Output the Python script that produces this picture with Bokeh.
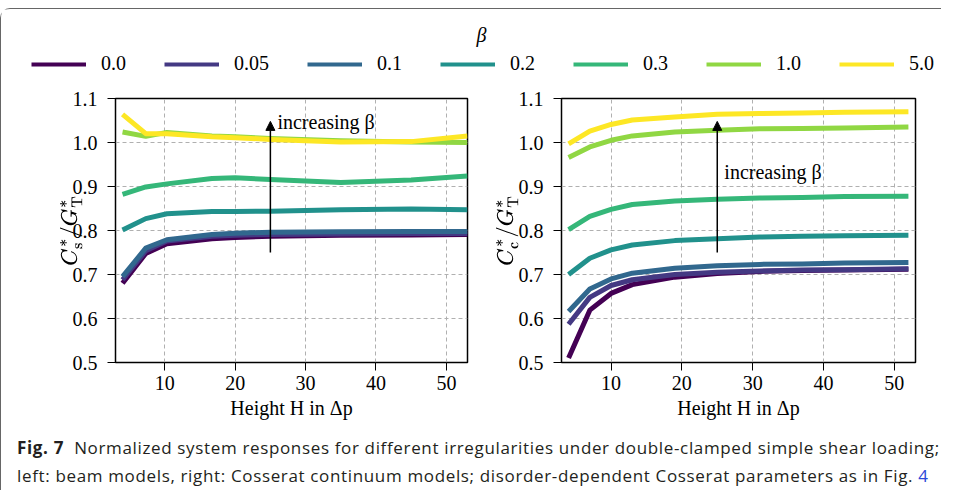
from bokeh.plotting import figure
from bokeh.layouts import column, row
from bokeh.models import (Range1d, FixedTicker, PrintfTickFormatter, Arrow, NormalHead,
                          Label, Legend, LegendItem, Div, Spacer)
from bokeh.embed import file_html
from bokeh.resources import INLINE

# ---------------- data ----------------
beta_labels = ["0.0", "0.05", "0.1", "0.2", "0.3", "1.0", "5.0"]
beta_colors = ["#440154", "#443983", "#31688e", "#21918c", "#35b779", "#90d743", "#fde725"]

# left panel: beam models
H_beam = [4, 7.3, 10.3, 16.7, 20, 25, 35, 45, 53]
beam_b000 = [0.680, 0.748, 0.770, 0.781, 0.784, 0.787, 0.789, 0.790, 0.791]
beam_b005 = [0.688, 0.754, 0.776, 0.787, 0.789, 0.791, 0.792, 0.793, 0.793]
beam_b010 = [0.695, 0.760, 0.779, 0.791, 0.794, 0.796, 0.797, 0.798, 0.798]
beam_b020 = [0.801, 0.827, 0.838, 0.843, 0.843, 0.844, 0.847, 0.849, 0.847]
beam_b030 = [0.882, 0.899, 0.906, 0.918, 0.920, 0.916, 0.909, 0.915, 0.924]
beam_b100 = [1.024, 1.014, 1.023, 1.015, 1.013, 1.009, 1.004, 1.001, 1.000]
beam_b500 = [1.064, 1.020, 1.020, 1.013, 1.011, 1.007, 1.001, 1.002, 1.015]
beam_series = [beam_b000, beam_b005, beam_b010, beam_b020, beam_b030, beam_b100, beam_b500]

# right panel: Cosserat continuum models
H_cosserat = [4, 7, 10, 13, 19, 25, 31, 37, 43, 52]
coss_b000 = [0.510, 0.619, 0.657, 0.677, 0.694, 0.702, 0.707, 0.709, 0.710, 0.712]
coss_b005 = [0.587, 0.648, 0.675, 0.688, 0.700, 0.705, 0.708, 0.710, 0.711, 0.713]
coss_b010 = [0.616, 0.667, 0.690, 0.703, 0.714, 0.720, 0.723, 0.724, 0.726, 0.727]
coss_b020 = [0.700, 0.737, 0.756, 0.767, 0.777, 0.781, 0.785, 0.787, 0.788, 0.789]
coss_b030 = [0.802, 0.832, 0.848, 0.859, 0.867, 0.871, 0.874, 0.875, 0.877, 0.878]
coss_b100 = [0.966, 0.990, 1.005, 1.015, 1.024, 1.028, 1.031, 1.032, 1.033, 1.035]
coss_b500 = [0.997, 1.026, 1.041, 1.051, 1.058, 1.064, 1.066, 1.067, 1.069, 1.070]
coss_series = [coss_b000, coss_b005, coss_b010, coss_b020, coss_b030, coss_b100, coss_b500]

x_ticks = [10, 20, 30, 40, 50]
y_ticks = [0.5, 0.6, 0.7, 0.8, 0.9, 1.0, 1.1]

arrow_H = 25
arrow_from = 0.75
arrow_to = 1.048

SERIF = "Liberation Serif"
FS = "20px"


def panel(width, left_border, right_border, H, series, ylabel, text_y, ylab_standoff):
    p = figure(width=width, height=344, output_backend="svg", toolbar_location=None,
               x_range=Range1d(3, 53), y_range=Range1d(0.5, 1.1),
               min_border_left=left_border, min_border_right=right_border,
               min_border_top=10, min_border_bottom=70)
    p.background_fill_color = "white"
    p.border_fill_color = "white"
    p.outline_line_color = "black"
    p.outline_line_width = 1.5
    p.outline_line_alpha = 1.0

    p.grid.grid_line_color = "#b0b0b0"
    p.grid.grid_line_dash = "4 3"
    p.grid.grid_line_width = 1

    for ys, c in zip(series, beta_colors):
        p.line(H, ys, line_color=c, line_width=5, line_join="round")

    p.xaxis.ticker = FixedTicker(ticks=x_ticks)
    p.yaxis.ticker = FixedTicker(ticks=y_ticks)
    p.yaxis.formatter = PrintfTickFormatter(format="%.1f")
    p.xaxis.axis_label = "Height H in \u0394p"
    p.yaxis.axis_label = ylabel

    for ax in (p.xaxis, p.yaxis):
        ax.axis_line_color = None
        ax.major_tick_line_color = "black"
        ax.major_tick_line_width = 1
        ax.major_tick_out = 8
        ax.major_tick_in = 0
        ax.minor_tick_line_color = None
        ax.major_label_text_font = SERIF
        ax.major_label_text_font_size = FS
        ax.major_label_text_color = "black"
        ax.axis_label_text_font = SERIF
        ax.axis_label_text_font_size = FS
        ax.axis_label_text_font_style = "normal"
        ax.axis_label_text_color = "black"
    p.xaxis.major_label_standoff = 5
    p.yaxis.major_label_standoff = 10
    p.xaxis.axis_label_standoff = 4
    p.yaxis.axis_label_standoff = ylab_standoff

    p.add_layout(Arrow(end=NormalHead(size=9, fill_color="black", line_color="black", line_width=1),
                       x_start=arrow_H, y_start=arrow_from, x_end=arrow_H, y_end=arrow_to,
                       line_color="black", line_width=1.5))
    p.add_layout(Label(x=arrow_H + 1, y=text_y, text="increasing \u03b2",
                       text_font=SERIF, text_font_size=FS, text_color="black",
                       text_baseline="middle", text_align="left"))
    return p


left = panel(480, 114, 14, H_beam, beam_series,
             r"$$C^*_\mathrm{s}/G^*_\mathrm{T}$$", 1.046, -13)
right = panel(454, 80, 20, H_cosserat, coss_series,
              r"$$C^*_\mathrm{c}/G^*_\mathrm{T}$$", 0.933, -3)

# ---------------- legend strip ----------------
# the series are drawn here only to feed the legend; the y range keeps them out of view
leg = figure(width=940, height=79, output_backend="svg", toolbar_location=None,
             x_range=Range1d(0, 940), y_range=Range1d(10, 89),
             x_axis_location=None, y_axis_location=None, min_border=0)
leg.outline_line_color = None
leg.xgrid.visible = False
leg.ygrid.visible = False
rends = [leg.line(H_cosserat, ys, line_color=c, line_width=4)
         for ys, c in zip(coss_series, beta_colors)]
legend = Legend(items=[LegendItem(label=l, renderers=[r]) for l, r in zip(beta_labels, rends)],
                orientation="horizontal", location=(30, 13),
                glyph_width=55, glyph_height=20, label_height=20,
                label_standoff=15, spacing=38, padding=0, margin=0,
                border_line_color=None, background_fill_alpha=0,
                label_text_font=SERIF, label_text_font_size=FS, label_text_color="black")
leg.add_layout(legend)
leg.add_layout(Label(x=480, y=54, x_units="screen", y_units="screen", text="\u03b2",
                     text_font=SERIF, text_font_size=FS,
                     text_font_style="italic", text_align="center", text_baseline="middle",
                     text_color="black"))

caption = Div(
    text=('<div style="font-family:\'Open Sans\'; font-size:17px; letter-spacing:0.65px;'
          ' line-height:28px; color:#231f20;'
          ' padding:2px 0 0 16px; white-space:nowrap;">'
          '<b>Fig. 7</b>&nbsp; Normalized system responses for different irregularities under '
          'double-clamped simple shear loading;<br>'
          'left: beam models, right: Cosserat continuum models; disorder-dependent Cosserat '
          'parameters as in Fig. <span style="color:#2b48d8">4</span></div>'),
    width=934, height=58, margin=(0, 0, 0, 0))

boxed = column(leg, row(left, right), caption,
               styles={"border-left": "1px solid #666", "border-top": "1px solid #666",
                       "border-top-left-radius": "10px"})
layout = column(Spacer(height=8), boxed)

open("out.html", "w").write(file_html(layout, INLINE))
